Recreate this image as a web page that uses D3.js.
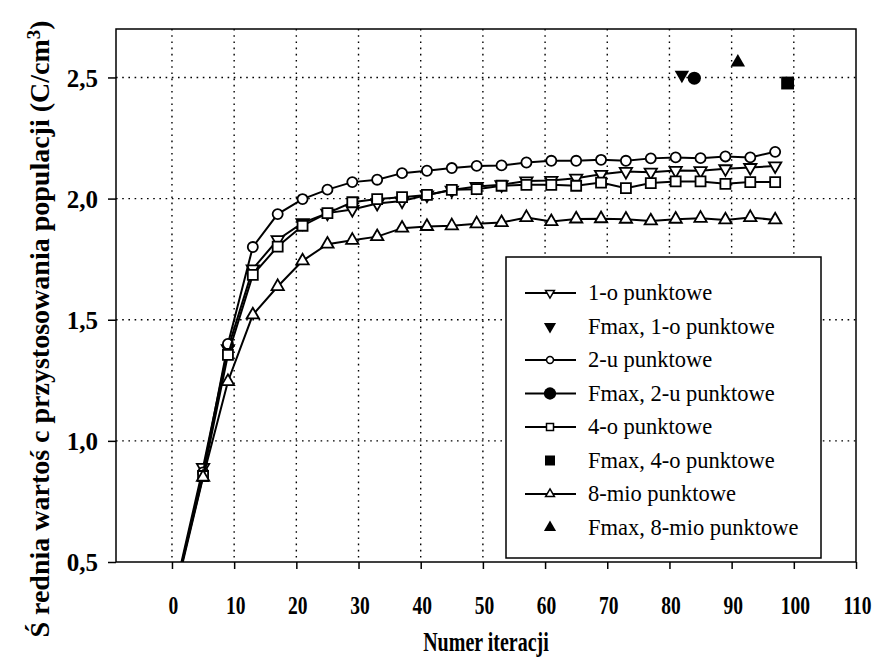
<!DOCTYPE html>
<html>

<head>
    <meta charset='utf-8'>
    <script src='https://d3js.org/d3.v7.min.js'></script>
    <style>
        body { margin: 0; background: #fff; }
        svg { display: block; }
    </style>
</head>

<body>
    <svg width='875' height='658'></svg>
</body>

<script>

    // iterations and mean fitness per crossover type

    var iterations = [1, 5, 9, 13, 17, 21, 25, 29, 33, 37, 41, 45, 49, 53, 57, 61, 65, 69, 73, 77, 81, 85, 89, 93, 97];

    var onePoint = [0.44, 0.89, 1.38, 1.71, 1.83, 1.90, 1.94, 1.955, 1.98, 1.99, 2.015, 2.035, 2.05, 2.057, 2.073, 2.075, 2.084, 2.10, 2.112, 2.109, 2.116, 2.115, 2.123, 2.128, 2.135];
    var twoPoint = [0.43, 0.87, 1.40, 1.80, 1.936, 1.998, 2.037, 2.068, 2.078, 2.105, 2.115, 2.126, 2.135, 2.137, 2.149, 2.156, 2.156, 2.16, 2.156, 2.166, 2.17, 2.167, 2.174, 2.17, 2.193];
    var fourPoint = [0.43, 0.855, 1.355, 1.685, 1.802, 1.888, 1.94, 1.985, 1.998, 2.006, 2.015, 2.036, 2.039, 2.053, 2.057, 2.057, 2.053, 2.066, 2.043, 2.064, 2.071, 2.071, 2.061, 2.068, 2.068];
    var eightPoint = [0.42, 0.85, 1.245, 1.52, 1.637, 1.743, 1.812, 1.828, 1.843, 1.878, 1.885, 1.888, 1.896, 1.901, 1.922, 1.905, 1.916, 1.917, 1.915, 1.908, 1.915, 1.919, 1.912, 1.922, 1.912];

    // best individual (Fmax) for each type: [iteration, value]
    var fmaxOne = [82, 2.51];
    var fmaxTwo = [84, 2.497];
    var fmaxFour = [99, 2.477];
    var fmaxEight = [91, 2.562];

    var xTicks = [0, 10, 20, 30, 40, 50, 60, 70, 80, 90, 100, 110];
    var yTicks = [0.5, 1.0, 1.5, 2.0, 2.5];

    var legendLabels = ['1-o punktowe', 'Fmax, 1-o punktowe', '2-u punktowe', 'Fmax, 2-u punktowe',
        '4-o punktowe', 'Fmax, 4-o punktowe', '8-mio punktowe', 'Fmax, 8-mio punktowe'];

    var serif = "'Liberation Serif'";

    // symbols: open markers for the mean lines, filled for Fmax
    var triDown = { type: d3.symbolTriangle, rotate: 180 };
    var circ = { type: d3.symbolCircle, rotate: 0 };
    var sq = { type: d3.symbolSquare, rotate: 0 };
    var triUp = { type: d3.symbolTriangle, rotate: 0 };

    var series = [
        { values: onePoint, sym: triDown, size: 66 },
        { values: twoPoint, sym: circ, size: 80 },
        { values: fourPoint, sym: sq, size: 100 },
        { values: eightPoint, sym: triUp, size: 66 }
    ];
    var fmax = [
        { p: fmaxOne, sym: triDown, size: 90 },
        { p: fmaxTwo, sym: circ, size: 135 },
        { p: fmaxFour, sym: sq, size: 165 },
        { p: fmaxEight, sym: triUp, size: 90 }
    ];

    var svg = d3.select('svg');
    var margin = { top: 29, left: 116 },
        width = 740,
        height = 533,
        g = svg.append('g').attr('transform', 'translate(' + margin.left + ',' + margin.top + ')');

    var x = d3.scaleLinear().domain([-9, 110]).range([0, width]);
    var y = d3.scaleLinear().domain([0.5, 2.7]).range([height, 0]);

    // dotted grid

    g.append('g')
        .selectAll('line')
        .data(xTicks.filter(function (d) { return d < 110; }))
        .enter()
        .append('line')
        .attr('x1', function (d) { return x(d); })
        .attr('x2', function (d) { return x(d); })
        .attr('y1', 0)
        .attr('y2', height)
        .attr('stroke', '#000')
        .attr('stroke-width', 1.4)
        .attr('stroke-dasharray', '1.6,4.6');

    g.append('g')
        .selectAll('line')
        .data(yTicks.filter(function (d) { return d > 0.5; }))
        .enter()
        .append('line')
        .attr('x1', 0)
        .attr('x2', width)
        .attr('y1', function (d) { return y(d); })
        .attr('y2', function (d) { return y(d); })
        .attr('stroke', '#000')
        .attr('stroke-width', 1.4)
        .attr('stroke-dasharray', '1.6,4.6');

    // axes - x labels are tall and narrow in the original, so stretch them

    var xAxis = g.append('g')
        .attr('transform', 'translate(0,' + height + ')')
        .call(d3.axisBottom(x).tickValues(xTicks).tickSize(7).tickFormat(d3.format('d')));

    var yAxis = g.append('g')
        .call(d3.axisLeft(y).tickValues(yTicks).tickSize(8).tickPadding(10)
            .tickFormat(function (d) { return d3.format('.1f')(d).replace('.', ','); }));

    [xAxis, yAxis].forEach(function (a) {
        a.attr('font-family', null).attr('font-size', null);
        a.select('.domain').remove();
        a.selectAll('line').attr('stroke', '#000').attr('stroke-width', 1.5);
        a.selectAll('text')
            .attr('fill', '#000')
            .style('font-family', serif)
            .style('font-weight', 'bold');
    });

    xAxis.selectAll('text')
        .attr('y', null)
        .attr('dy', null)
        .attr('transform', 'translate(1,52) scale(1,1.3)')
        .style('font-size', '19.5px');

    yAxis.selectAll('text')
        .attr('dy', '0.35em')
        .style('font-size', '25px');

    // frame round the plot area

    g.append('rect')
        .attr('width', width)
        .attr('height', height)
        .attr('fill', 'none')
        .attr('stroke', '#000')
        .attr('stroke-width', 1.5);

    // clip lines at the plot edge

    svg.append('defs').append('clipPath').attr('id', 'plot-clip')
        .append('rect').attr('width', width).attr('height', height);

    var plot = g.append('g').attr('clip-path', 'url(#plot-clip)');

    var line = d3.line()
        .x(function (d, i) { return x(iterations[i]); })
        .y(function (d) { return y(d); });

    function symPath(s, size) {
        return d3.symbol().type(s.type).size(size)();
    }

    series.forEach(function (s) {
        plot.append('path')
            .datum(s.values)
            .attr('fill', 'none')
            .attr('stroke', '#000')
            .attr('stroke-width', 2)
            .attr('d', line);

        plot.append('g')
            .selectAll('path')
            .data(s.values)
            .enter()
            .append('path')
            .attr('d', symPath(s.sym, s.size))
            .attr('transform', function (d, i) {
                return 'translate(' + x(iterations[i]) + ',' + y(d) + ') rotate(' + s.sym.rotate + ')';
            })
            .attr('fill', '#fff')
            .attr('stroke', '#000')
            .attr('stroke-width', 1.8);
    });

    fmax.forEach(function (f) {
        plot.append('path')
            .attr('d', symPath(f.sym, f.size))
            .attr('transform', 'translate(' + x(f.p[0]) + ',' + y(f.p[1]) + ') rotate(' + f.sym.rotate + ')')
            .attr('fill', '#000');
    });

    // legend

    var legend = svg.append('g').attr('transform', 'translate(506,257)');
    legend.append('rect')
        .attr('width', 315)
        .attr('height', 301)
        .attr('fill', '#fff')
        .attr('stroke', '#000')
        .attr('stroke-width', 1.5);

    var legendItems = [
        { sym: triDown, size: 34, filled: false, line: true },
        { sym: triDown, size: 64, filled: true, line: false },
        { sym: circ, size: 38, filled: false, line: true },
        { sym: circ, size: 120, filled: true, line: true },
        { sym: sq, size: 49, filled: false, line: true },
        { sym: sq, size: 100, filled: true, line: false },
        { sym: triUp, size: 34, filled: false, line: true },
        { sym: triUp, size: 64, filled: true, line: false }
    ];

    var rows = legend.selectAll('.row')
        .data(legendItems)
        .enter()
        .append('g')
        .attr('class', 'row')
        .attr('transform', function (d, i) { return 'translate(0,' + (36 + i * 33.5) + ')'; });

    rows.filter(function (d) { return d.line; })
        .append('line')
        .attr('x1', 19).attr('x2', 70)
        .attr('stroke', '#000')
        .attr('stroke-width', 2);

    rows.append('path')
        .attr('d', function (d) { return symPath(d.sym, d.size); })
        .attr('transform', function (d) { return 'translate(44,0) rotate(' + d.sym.rotate + ')'; })
        .attr('fill', function (d) { return d.filled ? '#000' : '#fff'; })
        .attr('stroke', '#000')
        .attr('stroke-width', function (d) { return d.filled ? 0 : 1.5; });

    rows.append('text')
        .attr('x', 82)
        .attr('dy', '0.33em')
        .style('font-family', serif)
        .style('font-size', '22.5px')
        .text(function (d, i) { return legendLabels[i]; });

    // axis titles

    svg.append('text')
        .attr('transform', 'translate(486,651) scale(1,1.35)')
        .attr('text-anchor', 'middle')
        .style('font-family', serif)
        .style('font-weight', 'bold')
        .style('font-size', '20px')
        .text('Numer iteracji');

    var yTitle = svg.append('text')
        .attr('transform', 'translate(49,329) rotate(-90)')
        .attr('text-anchor', 'middle')
        .style('font-family', serif)
        .style('font-weight', 'bold')
        .style('font-size', '28px');
    yTitle.append('tspan').text('Ś rednia wartoś c przystosowania populacji (C/cm');
    yTitle.append('tspan').attr('dy', '-0.45em').style('font-size', '19px').text('3');
    yTitle.append('tspan').attr('dy', '0.3em').text(')');

</script>

</html>
